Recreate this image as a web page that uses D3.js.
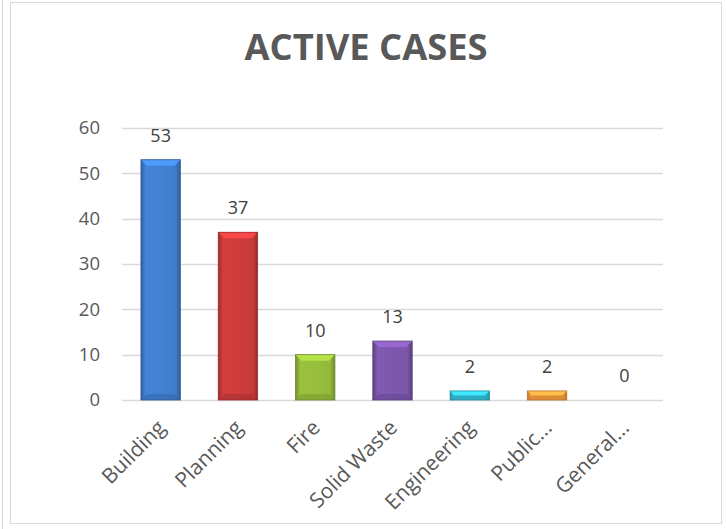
<!DOCTYPE html>
<html><head><meta charset="utf-8">
<script src="https://cdn.jsdelivr.net/npm/d3@7"></script>
<style>body{margin:0;background:#fff}svg{display:block}</style>
</head><body>
<svg id="c" width="726" height="529"></svg>
<script>
const categories = ["Building","Planning","Fire","Solid Waste","Engineering","Public...","General..."];
const values = [53,37,10,13,2,2,0];
const colors = ["#3f7ccb","#c83a3a","#93b83a","#7a55a8","#33bcd6","#f29a3c","#999999"];
const yTicks = [0,10,20,30,40,50,60];
const title = "ACTIVE CASES";

const svg = d3.select("#c");
// page borders
svg.append("line").attr("x1",2.5).attr("x2",2.5).attr("y1",0).attr("y2",529).attr("stroke","#d9d9d9");
svg.append("rect").attr("x",10.5).attr("y",2.5).attr("width",711).attr("height",521)
  .attr("fill","#fff").attr("stroke","#d9d9d9");

const m = {l:122, r:663, t:128, b:400};
const x = d3.scaleBand().domain(categories).range([m.l,m.r]).paddingInner(0.49).paddingOuter(0.245);
const y = d3.scaleLinear().domain([0,60]).range([m.b,m.t]);

svg.append("text").attr("x",366).attr("y",60).attr("text-anchor","middle")
  .attr("font-family","'Open Sans',sans-serif").attr("font-weight","bold").attr("font-size",35)
  .attr("textLength",243).attr("lengthAdjust","spacingAndGlyphs")
  .attr("fill","#595959").text(title);

// grid
svg.append("g").selectAll("line").data(yTicks).join("line")
  .attr("x1",m.l).attr("x2",m.r).attr("y1",d=>Math.round(y(d))+0.5).attr("y2",d=>Math.round(y(d))+0.5)
  .attr("stroke","#d9d9d9").attr("stroke-width",1.3);

const yAxis = svg.append("g").attr("transform",`translate(${m.l},0)`)
  .call(d3.axisLeft(y).tickValues(yTicks).tickSize(0).tickPadding(22));
yAxis.select(".domain").remove();
yAxis.selectAll("text").attr("font-family","'Open Sans',sans-serif").attr("font-size",18.5).attr("fill","#595959");

const xAxis = svg.append("g").attr("transform",`translate(0,${m.b})`)
  .call(d3.axisBottom(x).tickSize(0).tickPadding(0));
xAxis.select(".domain").remove();
xAxis.selectAll("text")
  .attr("font-family","'Open Sans',sans-serif").attr("font-size",21).attr("fill","#595959")
  .attr("text-anchor","end").attr("dy",0).attr("y",0)
  .attr("transform","translate(6,29) rotate(-45)");

// gradients
const defs = svg.append("defs");
colors.forEach((c,i)=>{
  const g = defs.append("linearGradient").attr("id","g"+i).attr("x1","0").attr("x2","1").attr("y1","0").attr("y2","0");
  const base = d3.color(c);
  g.append("stop").attr("offset","0").attr("stop-color",base.darker(0.7));
  g.append("stop").attr("offset","0.12").attr("stop-color",base.brighter(0.15));
  g.append("stop").attr("offset","0.5").attr("stop-color",base.brighter(0.1));
  g.append("stop").attr("offset","0.88").attr("stop-color",base);
  g.append("stop").attr("offset","1").attr("stop-color",base.darker(0.8));
});

const bars = svg.append("g").selectAll("g").data(categories).join("g");
bars.each(function(cat,i){
  const v = values[i]; if(v<=0) return;
  const g = d3.select(this);
  const x0 = x(cat), w = x.bandwidth(), y0 = y(v), h = y(0)-y(v);
  const base = d3.color(colors[i]);
  g.append("rect").attr("x",x0).attr("y",y0).attr("width",w).attr("height",h).attr("fill",`url(#g${i})`);
  const b = Math.min(6, h/2);
  g.append("path").attr("d",`M${x0},${y0}L${x0+w},${y0}L${x0+w-b},${y0+b}L${x0+b},${y0+b}Z`).attr("fill",base.brighter(0.6));
  g.append("path").attr("d",`M${x0},${y0+h}L${x0+w},${y0+h}L${x0+w-b},${y0+h-b}L${x0+b},${y0+h-b}Z`).attr("fill",base.darker(0.5)).attr("opacity",0.6);
  g.append("rect").attr("x",x0).attr("y",y0).attr("width",w).attr("height",h).attr("fill","none").attr("stroke",base.darker(0.8)).attr("stroke-width",0.8);
});

svg.append("g").selectAll("text").data(categories).join("text")
  .attr("x",d=>x(d)+x.bandwidth()/2).attr("y",(d,i)=>y(values[i])-18)
  .attr("text-anchor","middle").attr("font-family","'Open Sans',sans-serif").attr("font-size",18)
  .attr("fill","#404040").text((d,i)=>values[i]);
</script>
</body></html>
